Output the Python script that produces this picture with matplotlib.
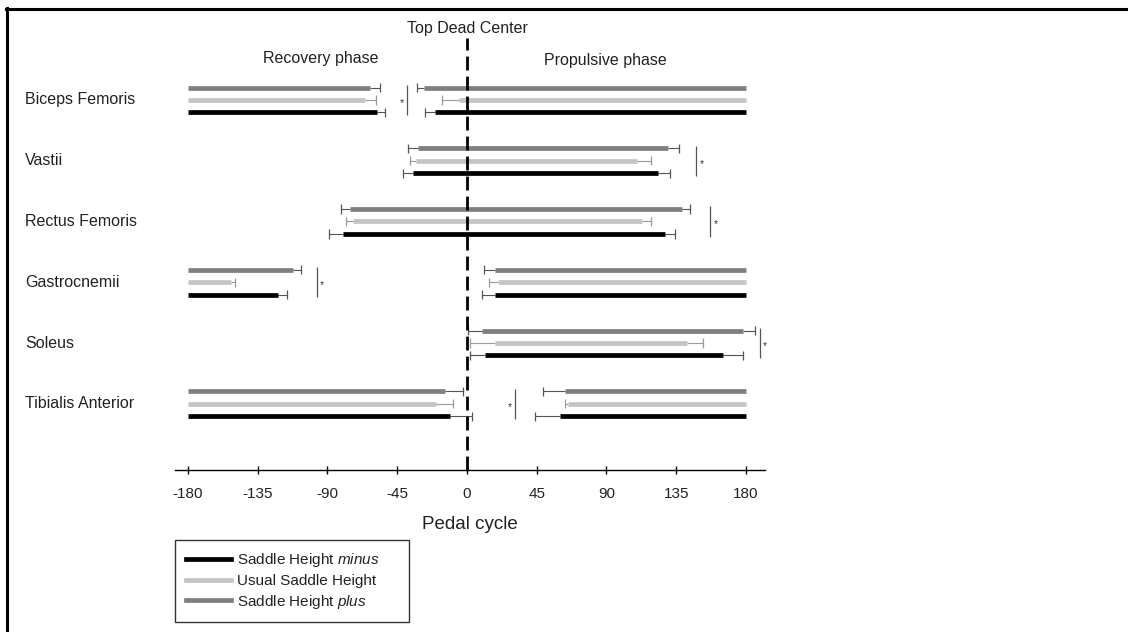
import matplotlib
matplotlib.use("Agg")
import matplotlib.pyplot as plt
from matplotlib.lines import Line2D
import matplotlib.transforms as mtransforms

plt.rcParams['font.family'] = ['Liberation Sans', 'DejaVu Sans']
plt.rcParams['mathtext.fontset'] = 'custom'
plt.rcParams['mathtext.it'] = 'Liberation Sans:italic'
plt.rcParams['mathtext.rm'] = 'Liberation Sans'

# muscles, top to bottom
muscles = ["Biceps Femoris", "Vastii", "Rectus Femoris", "Gastrocnemii", "Soleus", "Tibialis Anterior"]

# onset / offset (deg) and their SD, per condition; onset > offset means the burst wraps through BDC
plus_on = [-28, -31.6, -75.5, 18, 9.5, 63]
plus_on_sd = [4.5, 6.4, 5.5, 7, 8.7, 14]
plus_off = [-62.6, 130, 139, -112, 178, -14]
plus_off_sd = [6.5, 7, 5, 5, 8, 11.4]

usual_on = [-5, -33, -73.5, 20, 18, 65]
usual_on_sd = [11, 4, 4.5, 6, 16, 1.5]
usual_off = [-66, 110, 113, -152, 142, -20]
usual_off_sd = [7, 9, 6, 2, 10, 11]

minus_on = [-20.6, -35, -80, 18, 11.6, 60]
minus_on_sd = [6.5, 6, 9, 8.5, 9.6, 16]
minus_off = [-58, 123, 128, -122, 165, -11]
minus_off_sd = [5, 8, 6, 6, 13, 14]

# significance bracket position and side of the asterisk
sig_x = [-38.5, 148, 157, -97, 189, 31]
sig_side = ["left", "right", "right", "right", "right", "left"]

ticks = [-180, -135, -90, -45, 0, 45, 90, 135, 180]

W, H = 1128, 632
fig = plt.figure(figsize=(W / 100, H / 100), dpi=100)
ax = fig.add_axes([175 / W, (H - 470) / H, 590 / W, 432 / H])
ax.set_xlim(-188.4, 192.3)
ax.set_ylim(6.09, -1.02)

conds = [
    (plus_on, plus_on_sd, plus_off, plus_off_sd, "#7f7f7f", -0.205, "Saddle Height $\\it{plus}$"),
    (usual_on, usual_on_sd, usual_off, usual_off_sd, "#c4c4c4", 0.0, "Usual Saddle Height"),
    (minus_on, minus_on_sd, minus_off, minus_off_sd, "#000000", 0.205, "Saddle Height $\\it{minus}$"),
]

cap = 0.075
for on, on_sd, off, off_sd, col, dy, lab in conds:
    ecol = "#555555" if col != "#c4c4c4" else "#9a9a9a"
    for i in range(len(muscles)):
        y = i + dy
        if on[i] < off[i]:
            ax.hlines(y, on[i], off[i], color=col, lw=3.4, zorder=3)
        else:
            ax.hlines(y, on[i], 180, color=col, lw=3.4, zorder=3)
            ax.hlines(y, -180, off[i], color=col, lw=3.4, zorder=3)
        # onset error (towards earlier angles)
        x0 = on[i] - on_sd[i]
        ax.hlines(y, x0, on[i], color=ecol, lw=0.8, zorder=2)
        ax.vlines(x0, y - cap, y + cap, color=ecol, lw=0.9, zorder=2)
        # offset error (towards later angles)
        x1 = off[i] + off_sd[i]
        ax.hlines(y, off[i], x1, color=ecol, lw=0.8, zorder=2)
        ax.vlines(x1, y - cap, y + cap, color=ecol, lw=0.9, zorder=2)

for i, (sx, side) in enumerate(zip(sig_x, sig_side)):
    ax.vlines(sx, i - 0.25, i + 0.25, color="#555555", lw=0.9)
    off_x = -3.5 if side == "left" else 3.5
    ax.text(sx + off_x, i + 0.05, "*", ha="center", va="center", fontsize=7.5, color="#333333")

# top dead center
ax.axvline(0, color="black", lw=2, ls=(0, (5, 2.2)), zorder=5)

for s in ["top", "left", "right"]:
    ax.spines[s].set_visible(False)
ax.spines["bottom"].set_linewidth(1.0)
ax.set_yticks([])
ax.set_xticks(ticks)
ax.set_xticklabels([str(t) for t in ticks], fontsize=11, color="#222222")
ax.tick_params(axis="x", direction="inout", length=6, width=1, pad=9)
ax.set_xlabel("Pedal cycle", fontsize=13.5, color="#222222", labelpad=11)

trans = mtransforms.blended_transform_factory(fig.transFigure, ax.transData)
for i, m in enumerate(muscles):
    ax.text(25 / W, i, m, transform=trans, ha="left", va="center", fontsize=11.5, color="#222222")

fig.text(467 / W, 1 - 28 / H, "Top Dead Center", ha="center", va="center", fontsize=11.5, color="#222222")
fig.text(321 / W, 1 - 58 / H, "Recovery phase", ha="center", va="center", fontsize=11.5, color="#222222")
fig.text(605 / W, 1 - 60 / H, "Propulsive phase", ha="center", va="center", fontsize=11.5, color="#222222")

handles = [Line2D([], [], color=c[4], lw=3.4) for c in conds[::-1]]
labels = [c[6] + "     " for c in conds[::-1]]
leg = fig.legend(handles, labels, loc="upper left", bbox_to_anchor=(175 / W, 1 - 540 / H),
                 fontsize=11, frameon=True, fancybox=False, edgecolor="black",
                 handlelength=2.9, borderpad=0.75, labelspacing=0.3, handletextpad=0.4,
                 borderaxespad=0)
leg.get_frame().set_linewidth(1.0)
for t in leg.get_texts():
    t.set_color("#222222")

# picture frame (top and left)
fig.add_artist(Line2D([6 / W, 1], [1 - 8.5 / H, 1 - 8.5 / H], transform=fig.transFigure, color="black", lw=2.2))
fig.add_artist(Line2D([7 / W, 7 / W], [0, 1 - 8 / H], transform=fig.transFigure, color="black", lw=2.2))

fig.savefig("out.png", dpi=100)
